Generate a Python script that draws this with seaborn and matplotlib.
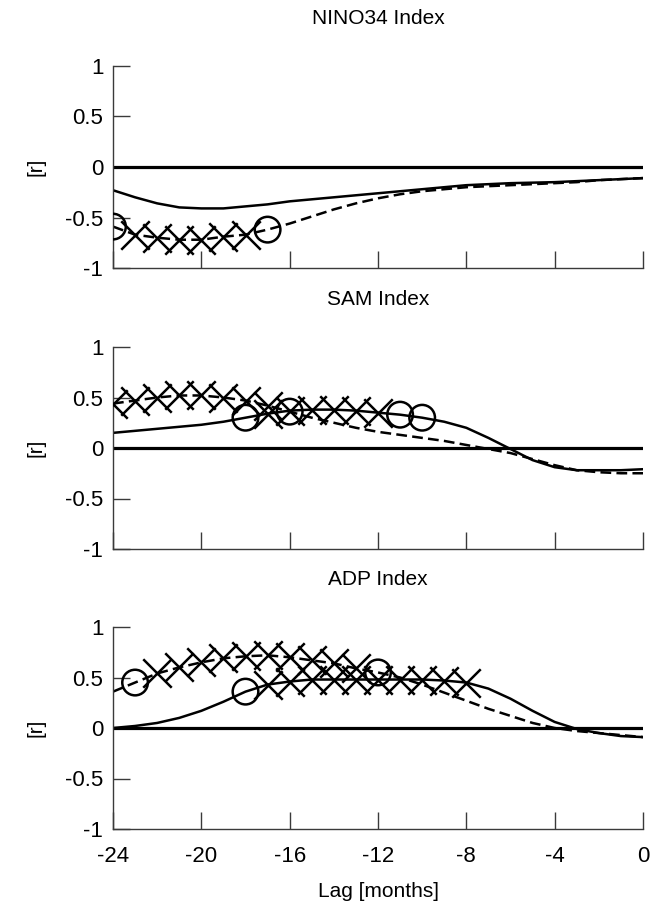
import matplotlib
matplotlib.use("Agg")
import matplotlib.pyplot as plt
import seaborn as sns
import pandas as pd
import numpy as np

lags = list(range(-24, 1))

titles = ["NINO34 Index", "SAM Index", "ADP Index"]

nino_solid = [-0.23, -0.30, -0.36, -0.40, -0.41, -0.41, -0.39, -0.37, -0.34, -0.32, -0.30, -0.28, -0.26,
              -0.24, -0.22, -0.20, -0.18, -0.17, -0.16, -0.155, -0.15, -0.14, -0.13, -0.12, -0.11]
nino_dash = [-0.59, -0.67, -0.70, -0.72, -0.72, -0.69, -0.67, -0.62, -0.56, -0.49, -0.42, -0.36, -0.31,
             -0.27, -0.24, -0.22, -0.20, -0.19, -0.18, -0.17, -0.16, -0.15, -0.13, -0.12, -0.11]

sam_solid = [0.15, 0.17, 0.19, 0.21, 0.23, 0.26, 0.30, 0.34, 0.37, 0.38, 0.38, 0.37, 0.35,
             0.33, 0.30, 0.26, 0.20, 0.10, -0.01, -0.12, -0.19, -0.22, -0.22, -0.22, -0.21]
sam_dash = [0.44, 0.47, 0.50, 0.52, 0.52, 0.50, 0.47, 0.42, 0.36, 0.30, 0.25, 0.20, 0.16,
            0.13, 0.10, 0.07, 0.03, -0.01, -0.05, -0.11, -0.17, -0.22, -0.24, -0.25, -0.25]

adp_solid = [0.00, 0.02, 0.05, 0.10, 0.17, 0.26, 0.36, 0.43, 0.46, 0.48, 0.48, 0.48, 0.48,
             0.48, 0.48, 0.47, 0.45, 0.39, 0.29, 0.17, 0.06, -0.01, -0.05, -0.08, -0.09]
adp_dash = [0.36, 0.45, 0.54, 0.60, 0.65, 0.69, 0.71, 0.72, 0.70, 0.67, 0.64, 0.59, 0.55,
            0.50, 0.43, 0.35, 0.27, 0.19, 0.12, 0.05, 0.00, -0.03, -0.05, -0.07, -0.09]

# significance markers (lags)
nino_solid_circ, nino_solid_x = [], []
nino_dash_circ, nino_dash_x = [-24, -17], [-23, -22, -21, -20, -19, -18]
sam_solid_circ, sam_solid_x = [-18, -11, -10], [-17, -16, -15, -14, -13, -12]
sam_dash_circ, sam_dash_x = [-16], [-24, -23, -22, -21, -20, -19, -18, -17]
adp_solid_circ, adp_solid_x = [-18], [-17, -16, -15, -14, -13, -12, -11, -10, -9, -8]
adp_dash_circ, adp_dash_x = [-23, -12], [-22, -21, -20, -19, -18, -17, -16, -15, -14, -13]

panels = [
    (nino_solid, nino_dash, nino_solid_circ, nino_solid_x, nino_dash_circ, nino_dash_x),
    (sam_solid, sam_dash, sam_solid_circ, sam_solid_x, sam_dash_circ, sam_dash_x),
    (adp_solid, adp_dash, adp_solid_circ, adp_solid_x, adp_dash_circ, adp_dash_x),
]

xticks = [-24, -20, -16, -12, -8, -4, 0]
yticks = [-1, -0.5, 0, 0.5, 1]
ytick_labels = ["-1", "-0.5", "0", "0.5", "1"]

sns.set_style("white")
plt.rcParams["font.family"] = ["Liberation Sans", "DejaVu Sans"]
plt.rcParams["text.color"] = "black"
plt.rcParams["axes.labelcolor"] = "black"
plt.rcParams["xtick.color"] = "black"
plt.rcParams["ytick.color"] = "black"

fig = plt.figure(figsize=(6.55, 9.06), dpi=100)
left, width = 113 / 655, 530 / 655
tops = [66, 347, 627]
h = 202

spine_col = "#3a3a3a"
for i, (sol, das, sc, sx, dc, dx) in enumerate(panels):
    top = tops[i]
    ax = fig.add_axes([left, 1 - (top + h) / 906, width, h / 906])
    ax.axhline(0, color="black", lw=2.3, zorder=1)
    df = pd.DataFrame({"lag": lags, "solid": sol, "dash": das})
    sns.lineplot(data=df, x="lag", y="solid", ax=ax, color="black", lw=1.8, zorder=2)
    sns.lineplot(data=df, x="lag", y="dash", ax=ax, color="black", lw=1.8,
                 linestyle=(0, (4.3, 2.1)), zorder=2)
    for col, circ, xs in (("solid", sc, sx), ("dash", dc, dx)):
        dcirc = df[df["lag"].isin(circ)]
        dxx = df[df["lag"].isin(xs)]
        if len(dcirc):
            sns.scatterplot(data=dcirc, x="lag", y=col, ax=ax, marker="o", s=340,
                            facecolors="none", edgecolor="black", linewidth=1.8, zorder=3)
        if len(dxx):
            sns.scatterplot(data=dxx, x="lag", y=col, ax=ax, marker="x", s=420,
                            color="black", linewidth=1.8, zorder=3)
    ax.set_xlim(-24, 0)
    ax.set_ylim(-1, 1)
    ax.set_xticks(xticks)
    ax.set_yticks(yticks)
    ax.set_yticklabels(ytick_labels)
    for s in ("top", "right"):
        ax.spines[s].set_visible(False)
    for s in ("left", "bottom"):
        ax.spines[s].set_color(spine_col)
        ax.spines[s].set_linewidth(1.0)
    ax.tick_params(direction="in", length=12.5, width=1.0, color=spine_col,
                   labelsize=16, pad=7, labelcolor="black", bottom=True, left=True)
    ax.tick_params(axis="x", pad=12)
    ax.set_ylabel("[r]", fontsize=15, labelpad=14, color="black")
    ax.set_title(titles[i], fontsize=15, pad=30, color="black")
    if i < 2:
        ax.set_xticklabels([])
        ax.set_xlabel("")
    else:
        ax.set_xticklabels([str(t) for t in xticks])
        ax.set_xlabel("Lag [months]", fontsize=15, labelpad=11, color="black")
    ax.set_facecolor("white")
    ax.grid(False)

fig.savefig("out.png", dpi=100, facecolor="white")
